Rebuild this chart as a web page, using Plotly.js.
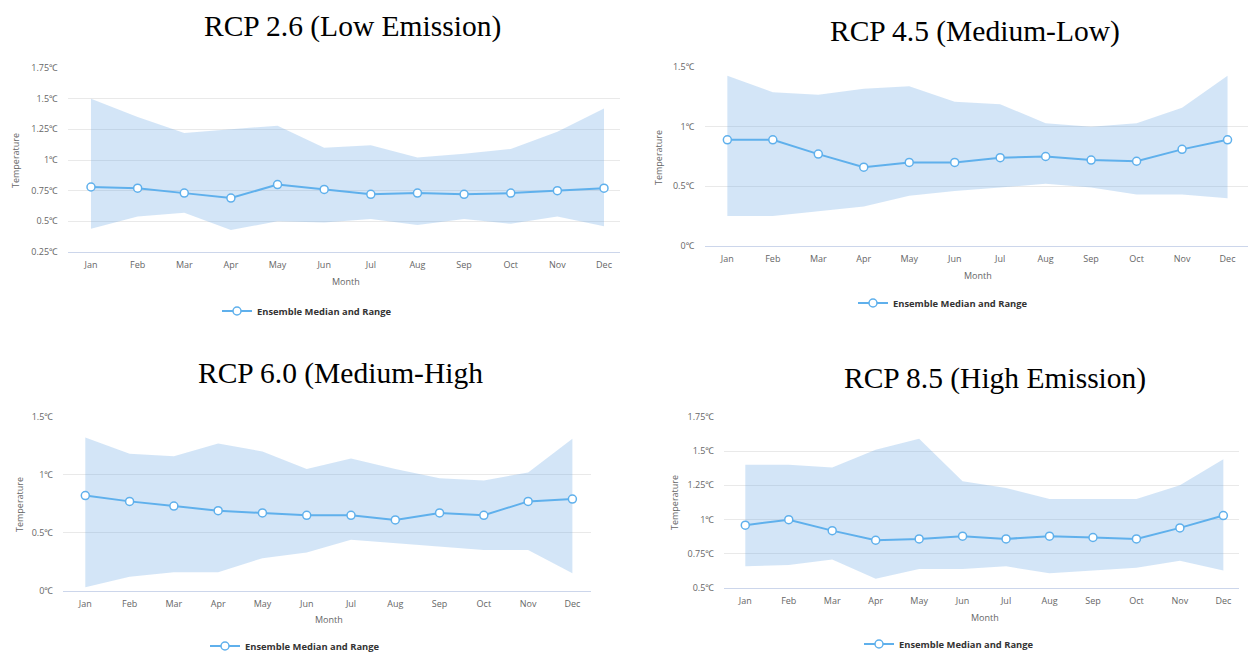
<!DOCTYPE html>
<html>
<head>
<meta charset="utf-8">
<script src="https://cdn.plot.ly/plotly-3.0.1.min.js"></script>
<style>
html,body{margin:0;padding:0;background:#fff;overflow:hidden;}
#chart{width:1248px;height:652px;}
</style>
</head>
<body>
<div id="chart"></div>
<script>
// ---------- data ----------
const months = ['Jan','Feb','Mar','Apr','May','Jun','Jul','Aug','Sep','Oct','Nov','Dec'];

const rcp26Median = [0.78,0.77,0.73,0.69,0.80,0.76,0.72,0.73,0.72,0.73,0.75,0.77];
const rcp26Upper  = [1.50,1.35,1.22,1.25,1.28,1.10,1.12,1.02,1.05,1.09,1.23,1.42];
const rcp26Lower  = [0.44,0.54,0.57,0.43,0.50,0.49,0.52,0.47,0.52,0.48,0.54,0.46];

const rcp45Median = [0.89,0.89,0.77,0.66,0.70,0.70,0.74,0.75,0.72,0.71,0.81,0.89];
const rcp45Upper  = [1.43,1.29,1.27,1.32,1.34,1.21,1.19,1.03,1.00,1.03,1.16,1.43];
const rcp45Lower  = [0.25,0.25,0.29,0.33,0.42,0.46,0.49,0.52,0.49,0.43,0.43,0.40];

const rcp60Median = [0.82,0.77,0.73,0.69,0.67,0.65,0.65,0.61,0.67,0.65,0.77,0.79];
const rcp60Upper  = [1.32,1.18,1.16,1.27,1.20,1.05,1.14,1.05,0.97,0.95,1.02,1.31];
const rcp60Lower  = [0.03,0.12,0.16,0.16,0.28,0.33,0.44,0.41,0.38,0.35,0.35,0.15];

const rcp85Median = [0.96,1.00,0.92,0.85,0.86,0.88,0.86,0.88,0.87,0.86,0.94,1.03];
const rcp85Upper  = [1.40,1.40,1.38,1.51,1.59,1.28,1.23,1.15,1.15,1.15,1.25,1.44];
const rcp85Lower  = [0.66,0.67,0.71,0.57,0.64,0.64,0.66,0.61,0.63,0.65,0.70,0.63];

const titles = ['RCP 2.6 (Low Emission)','RCP 4.5 (Medium-Low)','RCP 6.0 (Medium-High','RCP 8.5 (High Emission)'];
const seriesName = 'Ensemble Median and Range';
const xTitle = 'Month';
const yTitle = 'Temperature';

const yTicks26 = [0.25,0.5,0.75,1,1.25,1.5,1.75];
const yLabels26 = ['0.25℃','0.5℃','0.75℃','1℃','1.25℃','1.5℃','1.75℃'];
const yTicks45 = [0,0.5,1,1.5];
const yLabels45 = ['0℃','0.5℃','1℃','1.5℃'];
const yTicks60 = [0,0.5,1,1.5];
const yLabels60 = ['0℃','0.5℃','1℃','1.5℃'];
const yTicks85 = [0.5,0.75,1,1.25,1.5,1.75];
const yLabels85 = ['0.5℃','0.75℃','1℃','1.25℃','1.5℃','1.75℃'];

// ---------- layout geometry (pixels) ----------
const W = 1248, H = 652;
const px = v => v / W;
const py = v => 1 - v / H;

const panels = [
  {med: rcp26Median, up: rcp26Upper, lo: rcp26Lower, tv: yTicks26, tt: yLabels26,
   yr: [0.25,1.75], xr: [-0.493,11.343], left: 68, right: 620, top: 68, bottom: 252,
   title: [352, 27], ytit: [15, 161], xtit: [346, 282], leg: [217, 311]},
  {med: rcp45Median, up: rcp45Upper, lo: rcp45Lower, tv: yTicks45, tt: yLabels45,
   yr: [0,1.5], xr: [-0.5,11.45], left: 704.6, right: 1248, top: 67.3, bottom: 245.7,
   title: [975, 31], ytit: [659, 158], xtit: [978, 275], leg: [853, 303]},
  {med: rcp60Median, up: rcp60Upper, lo: rcp60Lower, tv: yTicks60, tt: yLabels60,
   yr: [0,1.5], xr: [-0.497,11.42], left: 63.3, right: 591, top: 416.7, bottom: 590.7,
   title: [341, 373], ytit: [19, 505], xtit: [329, 619], leg: [205, 646]},
  {med: rcp85Median, up: rcp85Upper, lo: rcp85Lower, tv: yTicks85, tt: yLabels85,
   yr: [0.5,1.75], xr: [-0.483,11.36], left: 724.3, right: 1239, top: 416.7, bottom: 588.3,
   title: [995, 378], ytit: [674, 503], xtit: [985, 617], leg: [859, 644]}
];

const lineColor = '#5fb0ec';
const fillColor = 'rgba(110,170,230,0.30)';
const tickFont = {family: 'Open Sans, Noto Sans, sans-serif', size: 9, color: '#666666'};

const traces = [];
const layout = {
  width: W, height: H,
  margin: {l: 0, r: 0, t: 0, b: 0, pad: 0, autoexpand: false},
  paper_bgcolor: '#ffffff', plot_bgcolor: 'rgba(0,0,0,0)',
  showlegend: true,
  annotations: [],
  hovermode: false
};

panels.forEach((p, i) => {
  const n = i + 1;
  const xa = n === 1 ? 'x' : 'x' + n;
  const ya = n === 1 ? 'y' : 'y' + n;
  const legId = n === 1 ? 'legend' : 'legend' + n;

  traces.push({x: months, y: p.up, xaxis: xa, yaxis: ya, type: 'scatter', mode: 'lines',
    line: {width: 0, color: fillColor}, showlegend: false, hoverinfo: 'skip'});
  traces.push({x: months, y: p.lo, xaxis: xa, yaxis: ya, type: 'scatter', mode: 'lines',
    line: {width: 0, color: fillColor}, fill: 'tonexty', fillcolor: fillColor,
    showlegend: false, hoverinfo: 'skip'});
  traces.push({x: months, y: p.med, xaxis: xa, yaxis: ya, type: 'scatter', mode: 'lines+markers',
    name: seriesName, legend: legId,
    line: {width: 2, color: lineColor},
    marker: {symbol: 'circle', size: 8, color: '#ffffff', line: {width: 1.5, color: lineColor}},
    showlegend: true});

  layout[n === 1 ? 'xaxis' : 'xaxis' + n] = {
    domain: [px(p.left), px(p.right)], anchor: ya, type: 'category',
    categoryorder: 'array', categoryarray: months,
    range: p.xr, showgrid: false, zeroline: false,
    showline: true, linecolor: '#ccd6eb', linewidth: 1,
    ticks: '', tickfont: tickFont, ticklabelstandoff: 4, fixedrange: true
  };
  layout[n === 1 ? 'yaxis' : 'yaxis' + n] = {
    domain: [py(p.bottom), py(p.top)], anchor: xa,
    range: p.yr, tickmode: 'array', tickvals: p.tv, ticktext: p.tt,
    showgrid: true, gridcolor: '#e9e9e9', gridwidth: 1, zeroline: false, showline: false,
    ticks: '', tickfont: tickFont, ticklabelstandoff: 9, fixedrange: true
  };
  layout[legId] = {
    x: px(p.leg[0]), y: py(p.leg[1]), xanchor: 'left', yanchor: 'middle',
    orientation: 'h', bgcolor: 'rgba(0,0,0,0)', itemwidth: 30,
    font: {family: 'Open Sans, Noto Sans, sans-serif', size: 9.4, color: '#333333', weight: 'bold'}
  };

  layout.annotations.push({
    text: titles[i], xref: 'paper', yref: 'paper', x: px(p.title[0]), y: py(p.title[1]),
    xanchor: 'center', yanchor: 'middle', showarrow: false,
    font: {family: 'Liberation Serif, Times New Roman, serif', size: 29.5, color: '#000000'}
  });
  layout.annotations.push({
    text: yTitle, xref: 'paper', yref: 'paper', x: px(p.ytit[0]), y: py(p.ytit[1]),
    xanchor: 'center', yanchor: 'middle', showarrow: false, textangle: -90,
    font: {family: 'Open Sans, Noto Sans, sans-serif', size: 9, color: '#666666'}
  });
  layout.annotations.push({
    text: xTitle, xref: 'paper', yref: 'paper', x: px(p.xtit[0]), y: py(p.xtit[1]),
    xanchor: 'center', yanchor: 'middle', showarrow: false,
    font: {family: 'Open Sans, Noto Sans, sans-serif', size: 9, color: '#666666'}
  });
});

Plotly.newPlot('chart', traces, layout, {displayModeBar: false, staticPlot: true});
</script>
</body>
</html>
